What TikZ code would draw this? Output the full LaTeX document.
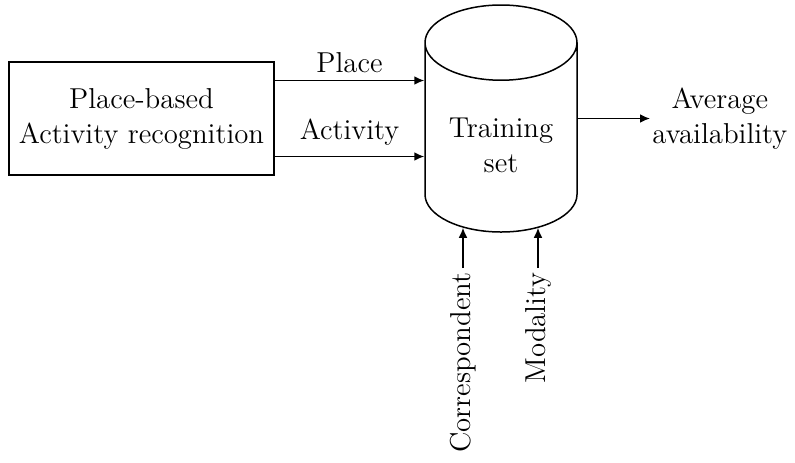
\documentclass[tikz,border=0pt]{standalone}
\usetikzlibrary{shapes.geometric,arrows.meta,calc}
\tikzset{
  conn/.style={line width=0.75pt,-{Latex[length=5pt,width=4.4pt]}},
  blockbox/.style={draw,line width=0.75pt,minimum width=132.5pt,minimum height=56.5pt,align=center},
  dbase/.style={draw,line width=0.75pt,cylinder,shape border rotate=90,aspect=0.64,minimum width=76pt,minimum height=113.5pt,align=center},
  sidelabel/.style={rotate=90,anchor=east,inner sep=2pt}
}
\begin{document}
\begin{tikzpicture}[x=0.5pt,y=-0.5pt,font=\fontsize{14.4}{17.5}\selectfont]
  \useasboundingbox (0,0) rectangle (795,462);
  %source
  \node[blockbox] (par) at (141.5,118.5) {Place-based\\Activity recognition};
  %store
  \node[dbase,anchor=shape center] (train) at (501,118.5) {Training\\set};
  %output
  \node[anchor=west,inner sep=1pt,align=center] (avg) at (650,118.5) {Average\\availability};
  %inputs
  \node[sidelabel] (corr) at (463,268) {Correspondent};
  \node[sidelabel] (modal) at (538,268) {Modality};
  \draw[conn] ([yshift=19pt]par.east) -- node[above] {Place} ([yshift=19pt]par.east -| train.west);
  \draw[conn] ([yshift=-19pt]par.east) -- node[above=2pt] {Activity} ([yshift=-19pt]par.east -| train.west);
  \draw[conn] (train.shape center -| train.east) -- (avg.west);
  \draw[conn] (corr.east) -- ($(corr.east |- train.bottom)+(0,-5)$);
  \draw[conn] (modal.east) -- ($(modal.east |- train.bottom)+(0,-5)$);
\end{tikzpicture}
\end{document}
